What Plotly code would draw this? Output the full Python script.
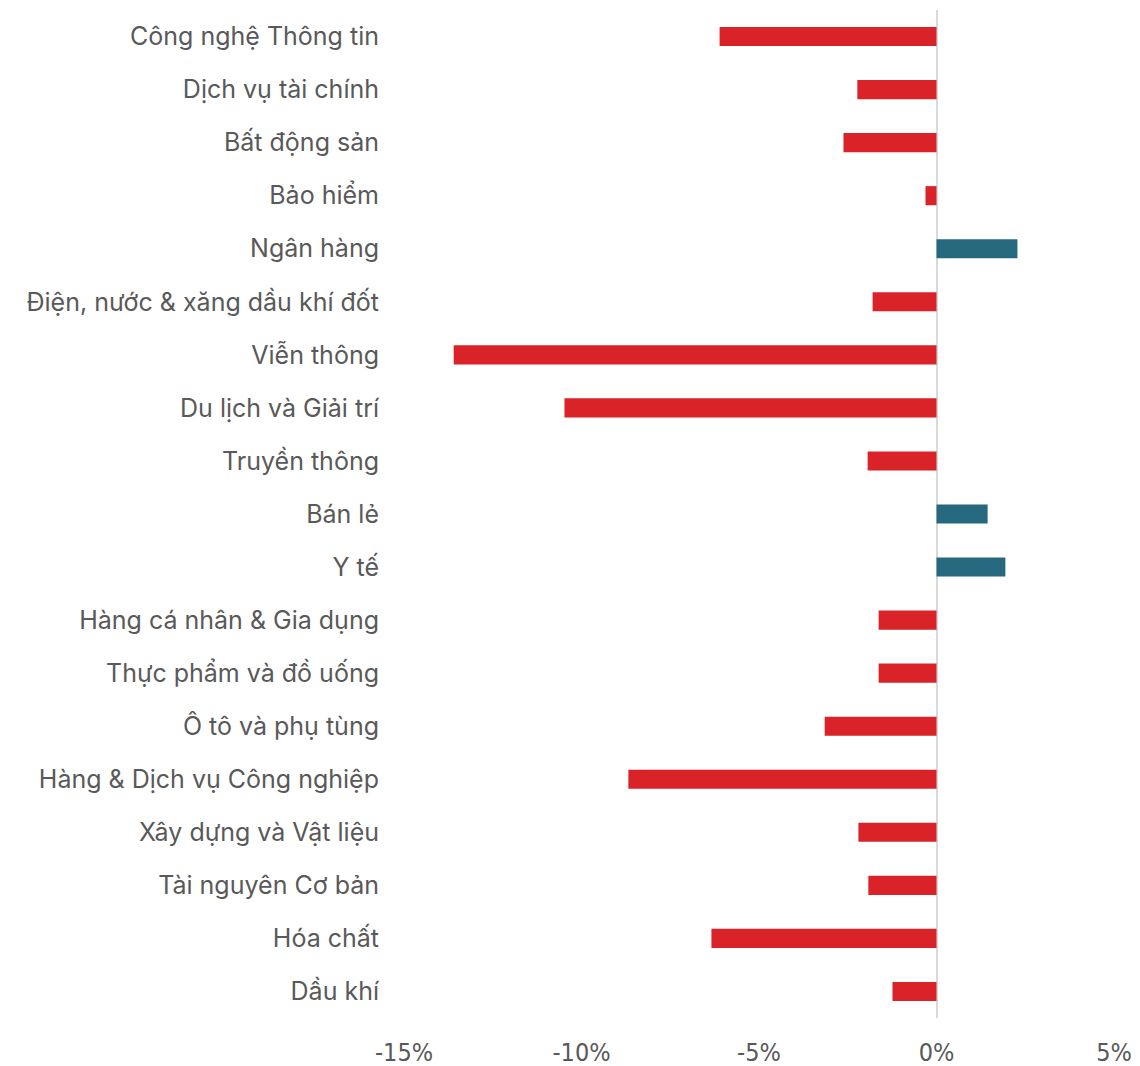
import plotly.graph_objects as go

categories = ["Công nghệ Thông tin", "Dịch vụ tài chính", "Bất động sản", "Bảo hiểm", "Ngân hàng",
              "Điện, nước & xăng dầu khí đốt", "Viễn thông", "Du lịch và Giải trí", "Truyền thông",
              "Bán lẻ", "Y tế", "Hàng cá nhân & Gia dụng", "Thực phẩm và đồ uống", "Ô tô và phụ tùng",
              "Hàng & Dịch vụ Công nghiệp", "Xây dựng và Vật liệu", "Tài nguyên Cơ bản", "Hóa chất", "Dầu khí"]
values = [-6.11, -2.23, -2.62, -0.31, 2.28, -1.80, -13.6, -10.48, -1.94, 1.44, 1.94,
          -1.63, -1.63, -3.15, -8.68, -2.20, -1.92, -6.34, -1.24]
tick_vals = [-15, -10, -5, 0, 5]
tick_text = ["-15%", "-10%", "-5%", "0%", "5%"]

colors = ["#26697f" if v > 0 else "#da2229" for v in values]

fig = go.Figure(go.Bar(
    y=categories, x=values, orientation="h",
    marker=dict(color=colors, line=dict(width=0)),
    width=0.36,
))
fig.update_layout(
    width=1132, height=1058,
    margin=dict(l=396, r=26, t=2, b=48),
    plot_bgcolor="white", paper_bgcolor="white",
    showlegend=False,
    font=dict(family="Inter, Roboto, sans-serif", color="#595959", size=24),
)
fig.update_yaxes(autorange="reversed", showgrid=False, ticks="", ticklabelstandoff=24, automargin=False,
                 tickfont=dict(size=25, color="#595959"), showline=False, zeroline=False)
fig.update_xaxes(range=[-15, 5], tickvals=tick_vals, ticktext=tick_text, showgrid=False, automargin=False,
                 zeroline=True, zerolinecolor="#d9d9d9", zerolinewidth=2,
                 tickfont=dict(size=25, family="Liberation Sans Narrow, DejaVu Sans Condensed", color="#595959"),
                 ticklabelstandoff=17, showline=False)
fig.write_html("out.html")
